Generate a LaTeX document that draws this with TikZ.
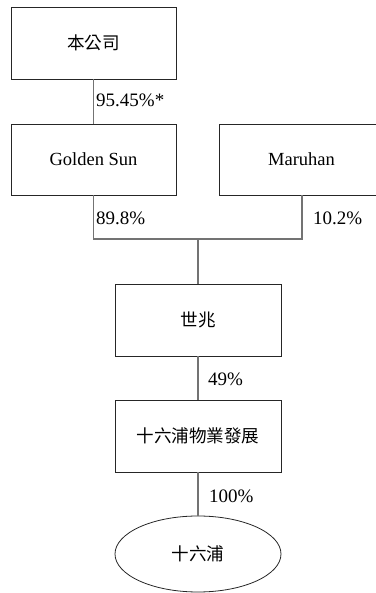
\documentclass[tikz,border=0pt]{standalone}
\usepackage{fontspec}
\setmainfont{Liberation Serif}
\newfontfamily\cjk{Noto Sans CJK TC}[Scale=0.95]
\usetikzlibrary{shapes.geometric}
\tikzset{
  orgbox/.style={draw=black!85, line width=0.8pt, minimum width=165pt, minimum height=72pt, inner sep=0pt, font=\fontsize{18.5}{22}\selectfont},
  orgell/.style={draw=black!85, line width=0.8pt, ellipse, minimum width=166pt, minimum height=76pt, inner sep=0pt, font=\fontsize{18.5}{22}\selectfont},
  conn/.style={draw=black!55, line width=1.2pt},
  pct/.style={anchor=west, inner sep=0pt, font=\fontsize{19}{22}\selectfont}
}
\begin{document}
\begin{tikzpicture}[x=1pt,y=1pt]
\useasboundingbox (0,0) rectangle (375,593);
\node[orgbox] (top) at (93.5,550) {\cjk 本公司};
\node[orgbox, minimum height=71pt] (gs) at (93.5,433.5) {Golden Sun};
\node[orgbox, minimum height=71pt] (mar) at (301.5,433.5) {Maruhan};
\node[orgbox, minimum width=166pt] (sz) at (198,273) {\cjk 世兆};
\node[orgbox, minimum width=166pt] (dev) at (198,157) {\cjk 十六浦物業發展};
\node[orgell] (ell) at (198,39) {\cjk 十六浦};
\coordinate (jl) at (93.5,354);
\coordinate (jr) at (302,354);
\coordinate (jm) at (198,354);
\draw[conn] (top.south) -- (gs.north);
\draw[conn] (gs.south) -- (jl) -- (jr) -- (jr |- mar.south);
\draw[conn] (jm) -- (sz.north);
\draw[conn] (sz.south) -- (dev.north);
\draw[conn] (dev.south) -- (ell.north);
\node[pct] (p1) at (96,493) {95.45\%*};
\node[pct] (p2) at (96,375) {89.8\%};
\node[pct] (p3) at (313,375) {10.2\%};
\node[pct] (p4) at (208,214) {49\%};
\node[pct] (p5) at (209,97) {100\%};
\end{tikzpicture}
\end{document}
